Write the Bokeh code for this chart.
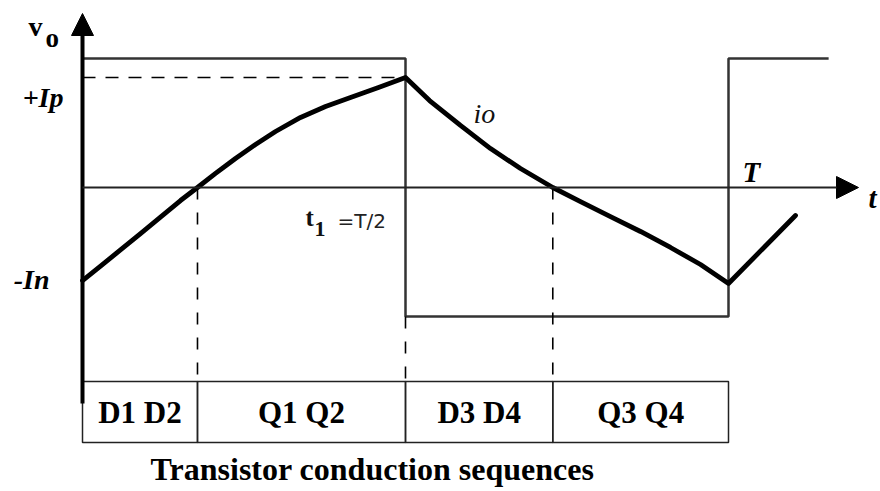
from bokeh.plotting import figure
from bokeh.models import Range1d, Arrow, NormalHead, Label
from bokeh.embed import file_html
from bokeh.resources import INLINE
from bokeh.core.properties import value

# --- waveform data (time in periods, amplitude normalised to Vdc) ---
T = 1.0
V_DC = 1.0

# square-wave output voltage: step edges and the level held after each edge
v_edges = [0.0, 0.5, 1.0, 1.155]
v_levels = [1.0, -1.0, 1.0, 1.0]

# load current io over one period and the start of the next one
i_t = [0.0, 0.0279, 0.0588, 0.0898, 0.1207, 0.1517, 0.178, 0.2059, 0.2368,
       0.2678, 0.2988, 0.3375, 0.3762, 0.4149, 0.4582, 0.5,
       0.5372, 0.5851, 0.6316, 0.678, 0.728, 0.7709, 0.8173, 0.8638,
       0.9102, 0.9567, 1.0, 1.1037]
i_v = [-0.721, -0.609, -0.484, -0.357, -0.229, -0.101, 0.0, 0.109, 0.225,
       0.333, 0.434, 0.543, 0.628, 0.698, 0.775, 0.853,
       0.674, 0.481, 0.302, 0.147, 0.0, -0.109, -0.225, -0.341,
       -0.465, -0.597, -0.744, -0.217]

# conduction sequence, one device pair per interval
devices = ["D1 D2", "Q1 Q2", "D3 D4", "Q3 Q4"]

I_P = max(i_v)
I_N = -i_v[0]
zeros = [t for t, v in zip(i_t, i_v) if v == 0.0]
bounds = [0.0, zeros[0], T / 2, zeros[1], T]

# --- page geometry: 646 px per period, 129 px per Vdc, origin at (82, 187) ---
W, H = 880, 491
OX, OY, SX, SY = 82, 187, 646, 129


def xd(px):
    return (px - OX) / SX


def yd(py):
    return (OY - py) / SY


p = figure(width=W, height=H, output_backend="svg", toolbar_location=None,
           x_range=Range1d(xd(0), xd(W)), y_range=Range1d(yd(H), yd(0)),
           min_border=0, min_border_left=0, min_border_right=0,
           min_border_top=0, min_border_bottom=0)
p.axis.visible = False
p.grid.visible = False
p.outline_line_color = None
p.background_fill_color = "white"
p.border_fill_color = "white"

SERIF = "Liberation Serif"

# axes with arrow heads
p.add_layout(Arrow(end=NormalHead(size=22, fill_color="black", line_color="black"),
                   x_start=0, y_start=yd(403), x_end=0, y_end=yd(13),
                   line_width=4, line_color="black"))
p.add_layout(Arrow(end=NormalHead(size=22, fill_color="black", line_color="black"),
                   x_start=0, y_start=0, x_end=xd(858), y_end=0,
                   line_width=2, line_color="#222222"))

# output voltage square wave
p.step(v_edges, v_levels, mode="after", line_color="#333333", line_width=2.5)

# +Ip reference line
p.line([0, T / 2], [I_P, I_P], line_color="black", line_width=1.5,
       line_dash="13 10")

# table top edge and bottom edge
TAB_TOP, TAB_BOT = yd(381), yd(442)

# dashed markers down to the conduction table
p.segment(x0=[zeros[0], T / 2, zeros[1]], y0=[0, -V_DC, 0],
          x1=[zeros[0], T / 2, zeros[1]], y1=[TAB_TOP] * 3,
          line_color="black", line_width=1.6, line_dash="12 13")

# load current
p.line(i_t, i_v, line_color="black", line_width=4.8, line_join="round",
       line_cap="round")

# conduction table
p.quad(left=bounds[:-1], right=bounds[1:], top=TAB_TOP, bottom=TAB_BOT,
       fill_color=None, line_color="#222222", line_width=1.5)
centers = [(a + b) / 2 for a, b in zip(bounds[:-1], bounds[1:])]
p.text(x=centers, y=[(TAB_TOP + TAB_BOT) / 2] * 4, text=devices,
       text_font=value(SERIF), text_font_style="bold", text_font_size="31px",
       text_align="center", text_baseline="middle", text_color="black")

p.add_layout(Label(x=xd(372), y=yd(468), text="Transistor conduction sequences",
                   text_font=SERIF, text_font_style="bold", text_font_size="32px",
                   text_align="center", text_baseline="middle", text_color="black"))

# axis and level labels
p.add_layout(Label(x=xd(28), y=yd(26), text="v", text_font=SERIF,
                   text_font_style="bold", text_font_size="28px",
                   text_baseline="alphabetic", text_color="black"))
p.add_layout(Label(x=xd(45), y=yd(37), text="o", text_font=SERIF,
                   text_font_style="bold", text_font_size="27px",
                   text_baseline="alphabetic", text_color="black"))
p.add_layout(Label(x=0, y=I_P, x_offset=-19, y_offset=-20, text="+Ip",
                   text_font=SERIF, text_font_style="bold italic",
                   text_font_size="28px", text_align="right",
                   text_baseline="alphabetic", text_color="black"))
p.add_layout(Label(x=0, y=-I_N, x_offset=-33, y_offset=1, text="-In",
                   text_font=SERIF, text_font_style="bold italic",
                   text_font_size="28px", text_align="right",
                   text_baseline="alphabetic", text_color="black"))
p.add_layout(Label(x=xd(473), y=yd(113), text="io", text_font=SERIF,
                   text_font_style="italic", text_font_size="28px",
                   text_baseline="alphabetic", text_color="#111111"))
p.add_layout(Label(x=T, y=yd(171), x_offset=14, text="T", text_font=SERIF,
                   text_font_style="bold italic", text_font_size="29px",
                   text_baseline="alphabetic", text_color="black"))
p.add_layout(Label(x=xd(868), y=yd(197), text="t", text_font=SERIF,
                   text_font_style="bold italic", text_font_size="29px",
                   text_baseline="alphabetic", text_color="black"))

# t1 = T/2 marker
p.add_layout(Label(x=xd(305), y=yd(217), text="t", text_font=SERIF,
                   text_font_style="bold", text_font_size="25px",
                   text_baseline="alphabetic", text_color="#111111"))
p.add_layout(Label(x=xd(314), y=yd(228), text="1", text_font=SERIF,
                   text_font_style="bold", text_font_size="22px",
                   text_baseline="alphabetic", text_color="#111111"))
p.add_layout(Label(x=xd(337), y=yd(220), text="=T/2", text_font="DejaVu Sans",
                   text_font_size="20px", text_baseline="alphabetic",
                   text_color="#222222"))

open("out.html", "w").write(file_html(p, INLINE))
